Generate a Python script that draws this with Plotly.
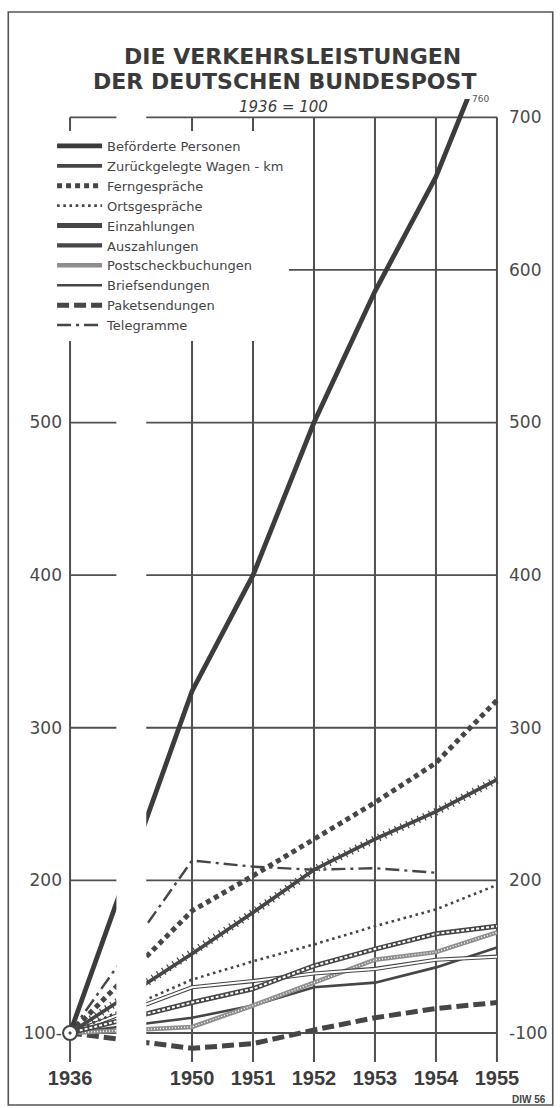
import plotly.graph_objects as go

# ---------------- data (index, 1936 = 100) ----------------
years = [1936, 1950, 1951, 1952, 1953, 1954, 1955]
befoerderte_personen = [100, 324, 400, 500, 586, 661, 760]
wagen_km = [100, 152, 179, 207, 227, 245, 266]
ferngespraeche = [100, 180, 203, 227, 251, 277, 318]
ortsgespraeche = [100, 135, 147, 158, 170, 181, 197]
einzahlungen = [100, 120, 129, 144, 155, 165, 170]
auszahlungen = [100, 130, 134, 139, 142, 148, 150]
postscheckbuchungen = [100, 104, 118, 133, 148, 153, 166]
briefsendungen = [100, 110, 118, 130, 133, 143, 156]
paketsendungen = [100, 90, 93, 102, 110, 116, 120]
telegramme = [100, 213, 209, 207, 208, 205, None]

y_ticks_right = [100, 200, 300, 400, 500, 600, 700]
y_ticks_left = [100, 200, 300, 400, 500]
base_year = 1936
base_value = 100

# ---------------- layout helpers ----------------
W, H = 560, 1108
ML, MR, MT, MB = 67, 58, 99, 46
X_RANGE = [-2.05, 5.05]
Y_RANGE = [81, 712]
PW, PH = W - ML - MR, H - MT - MB


def xpos(yr):
    # broken time axis: 1936 is drawn two slots left of 1950
    return yr - 1950 if yr >= 1950 else -2


def px_x(p):
    return (p - ML) / PW


def px_y(p):
    return (H - MB - p) / PH


xs = [xpos(y) for y in years]
INK = "#464646"
GRID = "#505050"
NARROW = "Liberation Sans, Arial, sans-serif"

fig = go.Figure()

# series: (name, values, main style, overlay styles, legend rank)
series = [
    ("Paketsendungen", paketsendungen, dict(color=INK, width=5, dash="12px,5px"), [], 9),
    ("Briefsendungen", briefsendungen, dict(color=INK, width=2.6), [], 8),
    ("Postscheckbuchungen", postscheckbuchungen, dict(color="#8e8e8e", width=4.5),
     [dict(color="white", width=1.4, dash="1px,2px")], 7),
    ("Auszahlungen", auszahlungen, dict(color=INK, width=4.2),
     [dict(color="white", width=2)], 6),
    ("Einzahlungen", einzahlungen, dict(color=INK, width=5),
     [dict(color="white", width=2, dash="3px,2px")], 5),
    ("Ortsgespräche", ortsgespraeche, dict(color=INK, width=2.6, dash="2.6px,3.6px"), [], 4),
    ("Telegramme", telegramme, dict(color=INK, width=2.4, dash="14px,5px,3px,5px"), [], 10),
    ("Ferngespräche", ferngespraeche, dict(color=INK, width=5, dash="5px,4px"), [], 3),
    ("Zurückgelegte Wagen - km", wagen_km, dict(color=INK, width=3.6),
     [dict(color=INK, width=8, dash="1.2px,5px")], 2),
    ("Beförderte Personen", befoerderte_personen, dict(color="#3c3c3c", width=4.8), [], 1),
]

for name, vals, style, overlays, rank in series:
    fig.add_trace(go.Scatter(
        x=xs, y=vals, mode="lines", name=name, line=style,
        legendgroup=name, legendrank=rank, hoverinfo="skip",
    ))
    for ov in overlays:
        fig.add_trace(go.Scatter(
            x=xs, y=vals, mode="lines", line=ov, legendgroup=name,
            showlegend=False, hoverinfo="skip",
        ))

# common origin 1936 = 100 (on the right-hand twin axis, same scale)
fig.add_trace(go.Scatter(
    x=[xpos(base_year)], y=[base_value], mode="markers", showlegend=False,
    yaxis="y2",
    marker=dict(symbol="circle-dot", size=14, color="white",
                line=dict(color=INK, width=2)),
    hoverinfo="skip", cliponaxis=False,
))

shapes = []
# vertical grid lines at every year
for yr in years:
    shapes.append(dict(type="line", xref="x", yref="y", x0=xpos(yr), x1=xpos(yr),
                       y0=Y_RANGE[0], y1=max(y_ticks_right), layer="below",
                       line=dict(color=GRID, width=2)))
# horizontal grid lines
for v in y_ticks_right:
    shapes.append(dict(type="line", xref="x", yref="y", x0=xpos(years[0]), x1=xpos(years[-1]),
                       y0=v, y1=v, layer="below", line=dict(color=GRID, width=1.8)))
# blank space behind the legend
shapes.append(dict(type="rect", xref="paper", yref="paper",
                   x0=px_x(40), x1=px_x(292), y0=px_y(362), y1=px_y(129),
                   layer="below", line=dict(width=0), fillcolor="white"))
# axis break between 1936 and 1950
shapes.append(dict(type="rect", xref="x", yref="paper", x0=-1.24, x1=-0.75,
                   y0=-0.02, y1=1.0, layer="above", line=dict(width=0), fillcolor="white"))
# outer frame
shapes.append(dict(type="rect", xref="paper", yref="paper",
                   x0=px_x(8), x1=px_x(555), y0=px_y(1105), y1=px_y(12),
                   layer="below", line=dict(color="#555555", width=1.6)))

annotations = [
    dict(text="<b>DIE VERKEHRSLEISTUNGEN</b>", x=px_x(294), y=px_y(57), xref="paper", yref="paper",
         xanchor="center", yanchor="middle", showarrow=False,
         font=dict(family="DejaVu Sans", size=22, color="#3a3a3a")),
    dict(text="<b>DER DEUTSCHEN BUNDESPOST</b>", x=px_x(286), y=px_y(81), xref="paper", yref="paper",
         xanchor="center", yanchor="middle", showarrow=False,
         font=dict(family="DejaVu Sans", size=22, color="#3a3a3a")),
    dict(text="<i>1936 = 100</i>", x=px_x(285), y=px_y(107), xref="paper", yref="paper",
         xanchor="center", yanchor="middle", showarrow=False,
         font=dict(family="DejaVu Sans", size=15, color="#3a3a3a")),
    dict(text="<b>DIW 56</b>", x=px_x(550), y=px_y(1099), xref="paper", yref="paper",
         xanchor="right", yanchor="middle", showarrow=False,
         font=dict(family=NARROW, size=10, color="#444")),
]
# value label where the passenger line leaves the top of the chart
p = befoerderte_personen
x_top = xpos(years[-2]) + (Y_RANGE[1] - p[-2]) / (p[-1] - p[-2])
annotations.append(dict(text=str(p[-1]), x=x_top, y=Y_RANGE[1], xref="x", yref="y",
                        xanchor="left", yanchor="middle", xshift=3, showarrow=False,
                        font=dict(family="DejaVu Sans", size=9, color="#555")))

left_text = [f"{v}-" if v == base_value else str(v) for v in y_ticks_left]
right_text = [f"-{v}" if v == base_value else str(v) for v in y_ticks_right]

fig.update_layout(
    width=W, height=H,
    margin=dict(l=ML, r=MR, t=MT, b=MB),
    paper_bgcolor="white", plot_bgcolor="white",
    shapes=shapes, annotations=annotations,
    showlegend=True,
    legend=dict(x=px_x(52), y=px_y(131), xanchor="left", yanchor="top",
                bgcolor="white", borderwidth=0, itemwidth=45, traceorder="normal",
                font=dict(family="DejaVu Sans", size=13, color="#444"),
                itemclick=False, itemdoubleclick=False),
    xaxis=dict(range=X_RANGE, showgrid=False, zeroline=False, showline=False,
               tickmode="array", tickvals=xs, ticktext=[str(y) for y in years],
               ticks="", ticklabelstandoff=2,
               tickfont=dict(family=NARROW, size=20, color="#3c3c3c", weight="bold")),
    yaxis=dict(range=Y_RANGE, showgrid=False, zeroline=False, showline=False,
               tickmode="array", tickvals=y_ticks_left, ticktext=left_text, ticks="",
               ticklabelstandoff=4,
               tickfont=dict(family="DejaVu Sans", size=17, color="#4a4a4a")),
    yaxis2=dict(range=Y_RANGE, overlaying="y", side="right", anchor="x",
                showgrid=False, zeroline=False, showline=False,
                tickmode="array", tickvals=y_ticks_right, ticktext=right_text, ticks="",
                ticklabelstandoff=8,
                tickfont=dict(family="DejaVu Sans", size=17, color="#4a4a4a")),
)

fig.write_html(
    "out.html",
    config={"displayModeBar": False},
    post_script="document.body.style.margin='0';document.body.style.overflow='hidden';",
)
